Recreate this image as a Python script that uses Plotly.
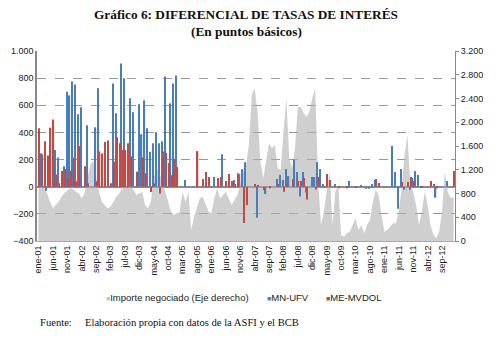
import plotly.graph_objects as go

months = ["ene", "feb", "mar", "abr", "may", "jun", "jul", "ago", "sep", "oct", "nov", "dic"]
categories = [f"{months[k % 12]}-{(1 + k // 12):02d}" for k in range(145)]
tick_idx = list(range(0, 145, 5))
tick_labels = [categories[k] for k in tick_idx]

# MN-UFV (left axis, basis points)
mn_ufv_points = {
    1: 247, 3: -30, 6: 270, 7: 215, 9: 150, 10: 700, 11: 673, 12: 776, 13: 754, 14: 534,
    15: 585, 17: 453, 20: 438, 21: 725, 26: 761, 27: 541, 29: 908, 30: 800, 32: 651,
    33: 548, 35: 607, 36: 387, 37: 636, 38: 431, 39: 257, 40: 320, 41: 401, 42: 320,
    43: 335, 44: 813, 46: 614, 47: 761, 48: 820, 51: 50, 61: 71, 64: 240, 68: 49,
    70: 93, 71: 130, 72: 181, 76: -228, 79: -54, 83: 56, 84: 86, 85: 49, 86: 130,
    87: 78, 89: 200, 90: 108, 91: -73, 92: 108, 93: -42, 95: 71, 96: 71, 97: 181,
    98: 130, 99: 20, 103: 20, 108: 42, 112: 10, 114: -15, 115: -15, 116: 20, 117: 49,
    123: 300, 124: 108, 125: -162, 126: 130, 127: -22, 129: -22, 130: 64, 131: 115,
    132: 86, 133: -10, 138: -81, 142: 42,
}
# ME-MVDOL (left axis, basis points)
me_mvdol_points = {
    0: 430, 1: 240, 2: 335, 3: 230, 4: 435, 5: 495, 6: 90, 7: 25, 8: 115, 9: 130,
    10: 65, 11: 118, 12: 213, 13: 40, 14: 300, 16: 150, 17: 25, 20: 40, 21: 260,
    22: 245, 23: 330, 24: 340, 25: 25, 26: 185, 27: 365, 28: 320, 29: 270, 30: 270,
    31: 320, 32: 225, 34: 110, 36: 215, 37: 100, 39: -40, 40: 25, 42: -50, 43: 260,
    44: 250, 45: 175, 46: 85, 47: 205, 48: 145, 55: 262, 57: 56, 58: 108, 59: 71,
    62: 64, 63: 71, 65: 42, 66: 93, 67: 42, 68: 20, 69: 100, 71: -267, 72: -135,
    75: 20, 76: 10, 78: -25, 80: -12, 83: 20, 85: -37, 86: 20, 88: 56, 90: 42,
    91: 42, 92: 64, 93: -95, 96: -20, 97: 71, 100: 93, 101: 49, 104: -12, 107: -12,
    110: -10, 117: 56, 118: 27, 126: 34, 128: 34, 129: 71, 130: 42, 133: -10,
    136: 42, 137: 20, 138: -12, 144: 115,
}
mn_ufv = [mn_ufv_points.get(k, 0) for k in range(145)]
me_mvdol = [me_mvdol_points.get(k, 0) for k in range(145)]

# Importe negociado (right axis)
importe = [
    887, 915, 887, 803, 662, 550, 606, 662, 747, 803, 859, 887, 875, 831, 803, 719, 803,
    1055, 1280, 1364, 1055, 831, 662, 606, 550, 578, 662, 747, 803, 876, 915, 887, 943,
    859, 775, 803, 831, 606, 550, 662, 1055, 1224, 1140, 999, 831, 662, 494, 438, 466,
    494, 831, 662, 831, 185, 410, 550, 719, 747, 634, 494, 466, 719, 887, 719, 775, 831,
    719, 606, 690, 775, 943, 1168, 1280, 1617, 2459, 2571, 2178, 1336, 1055, 1336, 1645,
    1561, 1617, 1224, 1196, 1841, 2403, 1392, 1224, 1561, 2262, 2262, 2150, 2094, 2178,
    2403, 2571, 1055, 270, 494, 831, 1168, 270, 831, 943, 101, 73, 129, 157, 270, 382,
    185, 270, 129, 270, 354, 662, 859, 775, 438, 157, 185, 241, 298, 298, 494, 887, 1448,
    1785, 943, 831, 606, 270, 494, 831, 606, 270, 101, 45, 157, 494, 1168, 831, 719, 747,
]

series_names = ["Importe negociado (Eje derecho)", "MN-UFV", "ME-MVDOL"]
series_colors = ["#c4c4c4", "#4a7ebb", "#be4b48"]

x = list(range(145))

fig = go.Figure()
fig.add_trace(go.Scatter(
    x=x, y=importe, name=series_names[0], yaxis="y",
    mode="lines", line=dict(width=0, color="rgba(175,175,175,0.6)"),
    fill="tozeroy", fillcolor="rgba(175,175,175,0.6)",
))
fig.add_trace(go.Bar(x=x, y=mn_ufv, name=series_names[1], yaxis="y2",
                     marker=dict(color=series_colors[1], line_width=0)))
fig.add_trace(go.Bar(x=x, y=me_mvdol, name=series_names[2], yaxis="y2",
                     marker=dict(color=series_colors[2], line_width=0)))

legend_font = dict(family="Liberation Sans, Arial", size=9.5, color="#222")
legend_x_px = [104, 265, 324]
annotations = []
for name, color, px in zip(series_names, series_colors, legend_x_px):
    annotations.append(dict(
        text=f"<span style='color:{color};font-size:7px'>■</span>{name}",
        xref="paper", yref="paper", x=0, y=0, xshift=px - 37, yshift=-56,
        xanchor="left", yanchor="middle", showarrow=False, font=legend_font))

serif = "Liberation Serif, Times New Roman"
annotations += [
    dict(text="<b>Gráfico 6: DIFERENCIAL DE TASAS DE INTERÉS</b>", xref="paper", yref="paper",
         x=0.5, y=1, yshift=37, showarrow=False, xanchor="center", yanchor="middle",
         font=dict(family=serif, size=13.3, color="#111")),
    dict(text="<b>(En puntos básicos)</b>", xref="paper", yref="paper",
         x=0.5, y=1, yshift=20, showarrow=False, xanchor="center", yanchor="middle",
         font=dict(family=serif, size=13.3, color="#111")),
    dict(text="Fuente:", xref="paper", yref="paper", x=0, y=0, xshift=1, yshift=-81,
         showarrow=False, xanchor="left", yanchor="middle",
         font=dict(family=serif, size=10.6, color="#111")),
    dict(text="Elaboración propia con datos de la ASFI y el BCB", xref="paper", yref="paper",
         x=0, y=0, xshift=46, yshift=-81, showarrow=False, xanchor="left", yanchor="middle",
         font=dict(family=serif, size=10.6, color="#111")),
]

tickfont = dict(family="Liberation Sans, Arial", size=9, color="#222")
fig.update_layout(
    width=503, height=339,
    margin=dict(l=37, r=48, t=51, b=98),
    paper_bgcolor="white", plot_bgcolor="white",
    separators=",.",
    barmode="group", bargap=0.12, bargroupgap=0,
    showlegend=False,
    xaxis=dict(range=[-0.5, 144.5], tickmode="array", tickvals=tick_idx, ticktext=tick_labels,
               tickangle=-90, tickfont=tickfont, showgrid=False, showline=True,
               linecolor="#aaaaaa", linewidth=1, ticks="", zeroline=False),
    yaxis=dict(side="right", range=[0, 3200], dtick=400, tickformat=",.0f", tickfont=tickfont,
               showgrid=False, showline=True, linecolor="#888888", linewidth=1,
               ticks="outside", ticklen=3, tickcolor="#888888", zeroline=False),
    yaxis2=dict(side="left", overlaying="y", range=[-400, 1000], dtick=200, tickformat=",.0f",
                tickfont=tickfont, showgrid=True, gridcolor="#999999", griddash="dash",
                gridwidth=1, zeroline=True, zerolinecolor="#8a8a8a", zerolinewidth=2,
                showline=True, linecolor="#888888", linewidth=1.5, ticks=""),
    annotations=annotations,
)

fig.write_html("out.html")
